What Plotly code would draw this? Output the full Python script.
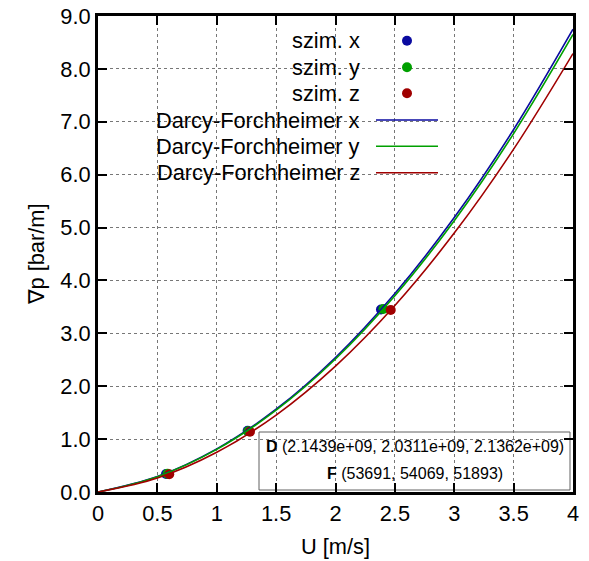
import plotly.graph_objects as go

# ---------------- data ----------------
# simulation points (U [m/s], grad p [bar/m])
sim_x_U = [0.573, 1.26, 2.383]
sim_x_p = [0.34, 1.159, 3.45]
sim_y_U = [0.585, 1.265, 2.403]
sim_y_p = [0.345, 1.15, 3.46]
sim_z_U = [0.60, 1.28, 2.465]
sim_z_p = [0.335, 1.14, 3.44]

# Darcy-Forchheimer curves
curve_U = [0, 0.5, 1, 1.5, 2, 2.5, 3, 3.5, 4]
df_x_p = [0, 0.293, 0.815, 1.565, 2.544, 3.753, 5.189, 6.855, 8.750]
df_y_p = [0, 0.290, 0.805, 1.547, 2.515, 3.710, 5.130, 6.777, 8.650]
df_z_p = [0, 0.265, 0.750, 1.455, 2.381, 3.527, 4.895, 6.482, 8.290]

series_names_pts = ["szim. x", "szim. y", "szim. z"]
series_names_lines = ["Darcy-Forchheimer x", "Darcy-Forchheimer y", "Darcy-Forchheimer z"]
colors = ["#0a0aa0", "#00a000", "#a00000"]

D_vals = ["2.1439e+09", "2.0311e+09", "2.1362e+09"]
F_vals = ["53691", "54069", "51893"]

x_ticks = [0, 0.5, 1, 1.5, 2, 2.5, 3, 3.5, 4]
x_ticklabels = ["0", "0.5", "1", "1.5", "2", "2.5", "3", "3.5", "4"]
y_ticks = [0, 1, 2, 3, 4, 5, 6, 7, 8, 9]
y_ticklabels = ["0.0", "1.0", "2.0", "3.0", "4.0", "5.0", "6.0", "7.0", "8.0", "9.0"]

FONT = "Liberation Sans, Arial, sans-serif"
FS = 21.8

fig = go.Figure()

pts = [(sim_x_U, sim_x_p), (sim_y_U, sim_y_p), (sim_z_U, sim_z_p)]
for (u, p), c, n in zip(pts, colors, series_names_pts):
    fig.add_trace(go.Scatter(x=u, y=p, mode="markers", name=n,
                             marker=dict(color=c, size=10, line=dict(width=0)),
                             showlegend=False))

for p, c, n in zip([df_x_p, df_y_p, df_z_p], colors, series_names_lines):
    fig.add_trace(go.Scatter(x=curve_U, y=p, mode="lines", name=n,
                             line=dict(color=c, width=1.6, shape="spline", smoothing=1.0),
                             showlegend=False))

# plot area geometry in pixels (for the manual key)
L, R, T, B = 98, 573, 16, 492
W, H = R - L, B - T


def px(xp):
    return (xp - L) / W


def py(yp):
    return (B - yp) / H


shapes = []
annotations = []

# opaque key background (hides grid)
shapes.append(dict(type="rect", xref="paper", yref="paper", layer="between",
                   x0=0, x1=px(451), y0=py(184), y1=1,
                   fillcolor="white", line=dict(width=0)))

row_y = [40.7, 67.3, 93.3, 120, 146.3, 172.7]
labels = series_names_pts + series_names_lines
for i, (lab, yy) in enumerate(zip(labels, row_y)):
    annotations.append(dict(xref="paper", yref="paper", x=px(362), y=py(yy),
                            text=lab, showarrow=False, xanchor="right", yanchor="middle",
                            font=dict(family=FONT, size=FS, color="black")))
    c = colors[i % 3]
    if i < 3:
        shapes.append(dict(type="circle", xref="paper", yref="paper",
                           xsizemode="pixel", ysizemode="pixel",
                           xanchor=px(407), yanchor=py(yy),
                           x0=-5, x1=5, y0=-5, y1=5,
                           fillcolor=c, line=dict(width=0)))
    else:
        shapes.append(dict(type="line", xref="paper", yref="paper",
                           x0=px(376), x1=px(438), y0=py(yy), y1=py(yy),
                           line=dict(color=c, width=1.6)))

# parameter box
shapes.append(dict(type="rect", xref="paper", yref="paper", layer="between",
                   x0=px(259), x1=px(570), y0=py(490), y1=py(432),
                   fillcolor="white", line=dict(color="#606060", width=1)))
annotations.append(dict(xref="paper", yref="paper", x=px(414.5), y=py(446),
                        text="<b>D</b> (" + ", ".join(D_vals) + ")",
                        showarrow=False, xanchor="center", yanchor="middle",
                        font=dict(family=FONT, size=16, color="black")))
annotations.append(dict(xref="paper", yref="paper", x=px(414.5), y=py(473),
                        text="<b>F</b> (" + ", ".join(F_vals) + ")",
                        showarrow=False, xanchor="center", yanchor="middle",
                        font=dict(family=FONT, size=16, color="black")))

axis_common = dict(showline=True, linecolor="black", linewidth=3, mirror="ticks",
                   ticks="inside", ticklen=9, tickwidth=2, tickcolor="black",
                   showgrid=True, gridcolor="#777777", gridwidth=1, griddash="dot",
                   zeroline=False, layer="above traces", automargin=False,
                   ticklabeloverflow="allow",
                   tickfont=dict(family=FONT, size=FS, color="black"))

fig.update_layout(
    width=589, height=561,
    margin=dict(l=L, r=589 - R, t=T, b=561 - B, autoexpand=False),
    paper_bgcolor="white", plot_bgcolor="white",
    showlegend=False, hovermode=False,
    shapes=shapes, annotations=annotations,
    xaxis=dict(range=[0, 4], tickvals=x_ticks, ticktext=x_ticklabels,
               title=dict(text="U [m/s]", font=dict(family=FONT, size=FS, color="black"), standoff=14),
               **axis_common),
    yaxis=dict(range=[0, 9], tickvals=y_ticks, ticktext=y_ticklabels,
               title=dict(text="∇p [bar/m]", font=dict(family=FONT, size=FS, color="black"), standoff=10),
               **axis_common),
)

# remove the browser's default 8px body margin so the 589x561 figure fills the window
fig.write_html("out.html", config={"displayModeBar": False},
               post_script="document.body.style.margin='0';document.body.style.overflow='hidden';")
